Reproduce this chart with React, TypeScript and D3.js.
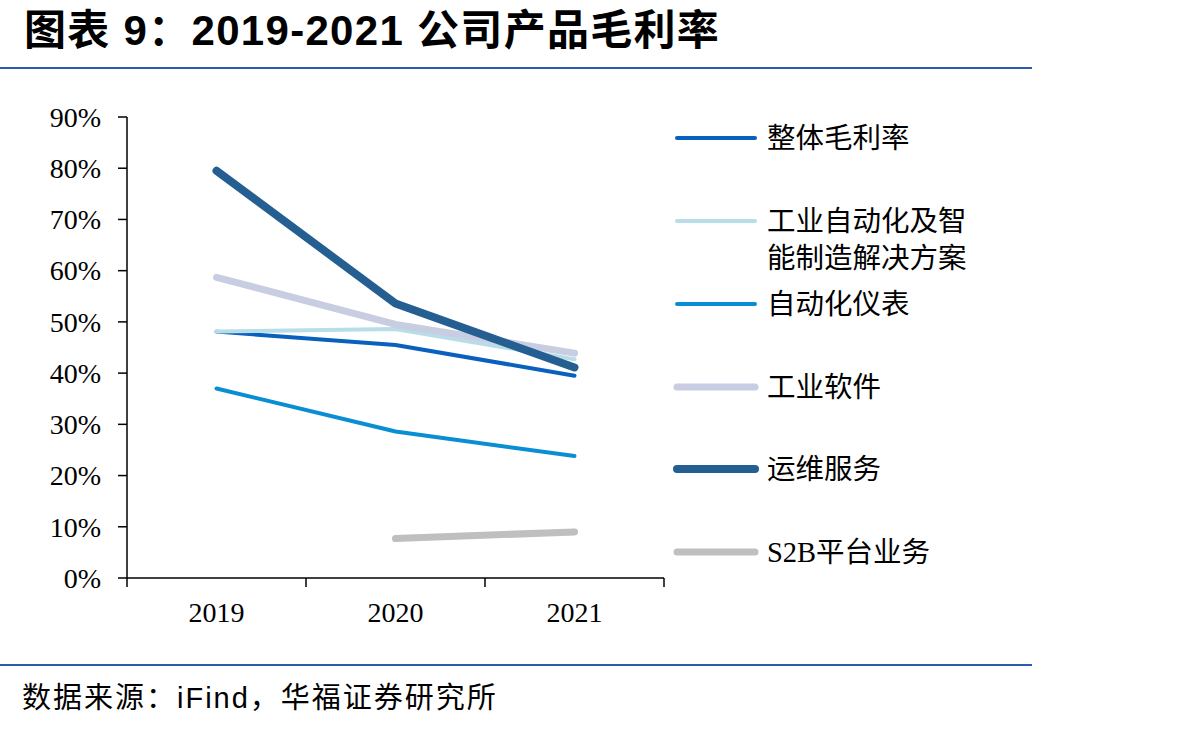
import React from "react";
import * as d3 from "d3";

const years = ["2019", "2020", "2021"];
const yTicks = [0, 10, 20, 30, 40, 50, 60, 70, 80, 90];

const seriesNames = [
  "整体毛利率",
  "工业自动化及智能制造解决方案",
  "自动化仪表",
  "工业软件",
  "运维服务",
  "S2B平台业务",
];
const overall = [48.1, 45.5, 39.5];
const industrialAutomation = [48.1, 48.6, 42.7];
const instruments = [37.0, 28.6, 23.8];
const software = [58.7, 49.5, 43.9];
const maintenance = [79.5, 53.6, 41.1];
const s2b = [null, 7.7, 9.0];

const seriesValues = [overall, industrialAutomation, instruments, software, maintenance, s2b];
const seriesColors = ["#0a60bd", "#b7dde8", "#0a8ed3", "#c8cde2", "#255e91", "#bfbfbf"];
const seriesWidths = [4, 4, 4, 7, 8, 7];
// legend label lines (the long one wraps onto two lines)
const legendLabels = [
  ["整体毛利率"],
  ["工业自动化及智", "能制造解决方案"],
  ["自动化仪表"],
  ["工业软件"],
  ["运维服务"],
  ["S2B平台业务"],
];
// drawing order, bottom to top
const drawOrder = [0, 2, 1, 3, 4, 5];

const W = 1189;
const H = 730;
const plot = { left: 127, right: 664, top: 117, bottom: 578 };
const serif = "'Liberation Serif', 'Times New Roman', 'Noto Sans CJK SC', serif";
const cjk = "'Liberation Sans', Arial, 'Noto Sans CJK SC', sans-serif";

export default function App() {
  const x = d3.scaleBand<string>().domain(years).range([plot.left, plot.right]);
  const y = d3.scaleLinear().domain([0, 90]).range([plot.bottom, plot.top]);

  const line = d3
    .line<number | null>()
    .defined((d) => d !== null)
    .x((_, i) => (x(years[i]) as number) + x.bandwidth() / 2)
    .y((d) => y(d as number));

  const xTickPos = [plot.left, ...years.map((yr) => (x(yr) as number) + x.bandwidth())];

  const legendX1 = 677;
  const legendX2 = 755;
  const legendY = [138, 221, 304, 387, 469, 552];

  return (
    <svg
      width={W}
      height={H}
      style={{ position: "absolute", left: 0, top: 0, background: "#fff" }}
    >
      {/* header */}
      <text
        x={24}
        y={45}
        fontFamily={cjk}
        fontWeight="bold"
        fontSize={42}
        letterSpacing={1.3}
        fill="#000"
      >
        图表 9：2019-2021 公司产品毛利率
      </text>
      <line x1={0} x2={1032} y1={68} y2={68} stroke="#2a5caa" strokeWidth={2} />

      {/* y axis */}
      <line x1={plot.left} x2={plot.left} y1={plot.top} y2={plot.bottom} stroke="#000" strokeWidth={1.5} />
      {yTicks.map((t) => (
        <g key={t}>
          <line x1={plot.left - 9} x2={plot.left} y1={y(t)} y2={y(t)} stroke="#000" strokeWidth={1.5} />
          <text
            x={101}
            y={y(t)}
            dy="0.35em"
            textAnchor="end"
            fontFamily={serif}
            fontSize={28}
            fill="#000"
          >
            {t}%
          </text>
        </g>
      ))}

      {/* x axis */}
      <line x1={plot.left} x2={plot.right} y1={plot.bottom} y2={plot.bottom} stroke="#000" strokeWidth={1.5} />
      {xTickPos.map((p, i) => (
        <line key={i} x1={p} x2={p} y1={plot.bottom} y2={plot.bottom + 9} stroke="#000" strokeWidth={1.5} />
      ))}
      {years.map((yr) => (
        <text
          key={yr}
          x={(x(yr) as number) + x.bandwidth() / 2}
          y={622}
          textAnchor="middle"
          fontFamily={serif}
          fontSize={28}
          fill="#000"
        >
          {yr}
        </text>
      ))}

      {/* series lines */}
      {drawOrder.map((i) => (
        <path
          key={seriesNames[i]}
          d={line(seriesValues[i]) || ""}
          fill="none"
          stroke={seriesColors[i]}
          strokeWidth={seriesWidths[i]}
          strokeLinecap="round"
          strokeLinejoin="round"
        />
      ))}

      {/* legend */}
      {seriesNames.map((name, i) => (
        <g key={name}>
          <line
            x1={legendX1}
            x2={legendX2}
            y1={legendY[i]}
            y2={legendY[i]}
            stroke={seriesColors[i]}
            strokeWidth={seriesWidths[i]}
            strokeLinecap="round"
          />
          {legendLabels[i].map((lbl, j) => (
            <text
              key={j}
              x={767}
              y={legendY[i] + j * 37}
              dy="0.36em"
              fontFamily={serif}
              fontSize={28.5}
              fill="#000"
            >
              {lbl}
            </text>
          ))}
        </g>
      ))}

      {/* footer */}
      <line x1={0} x2={1032} y1={665} y2={665} stroke="#2a5caa" strokeWidth={2} />
      <text x={22} y={708} fontFamily={cjk} fontSize={29} letterSpacing={2} fill="#000">
        数据来源：iFind，华福证券研究所
      </text>
    </svg>
  );
}
